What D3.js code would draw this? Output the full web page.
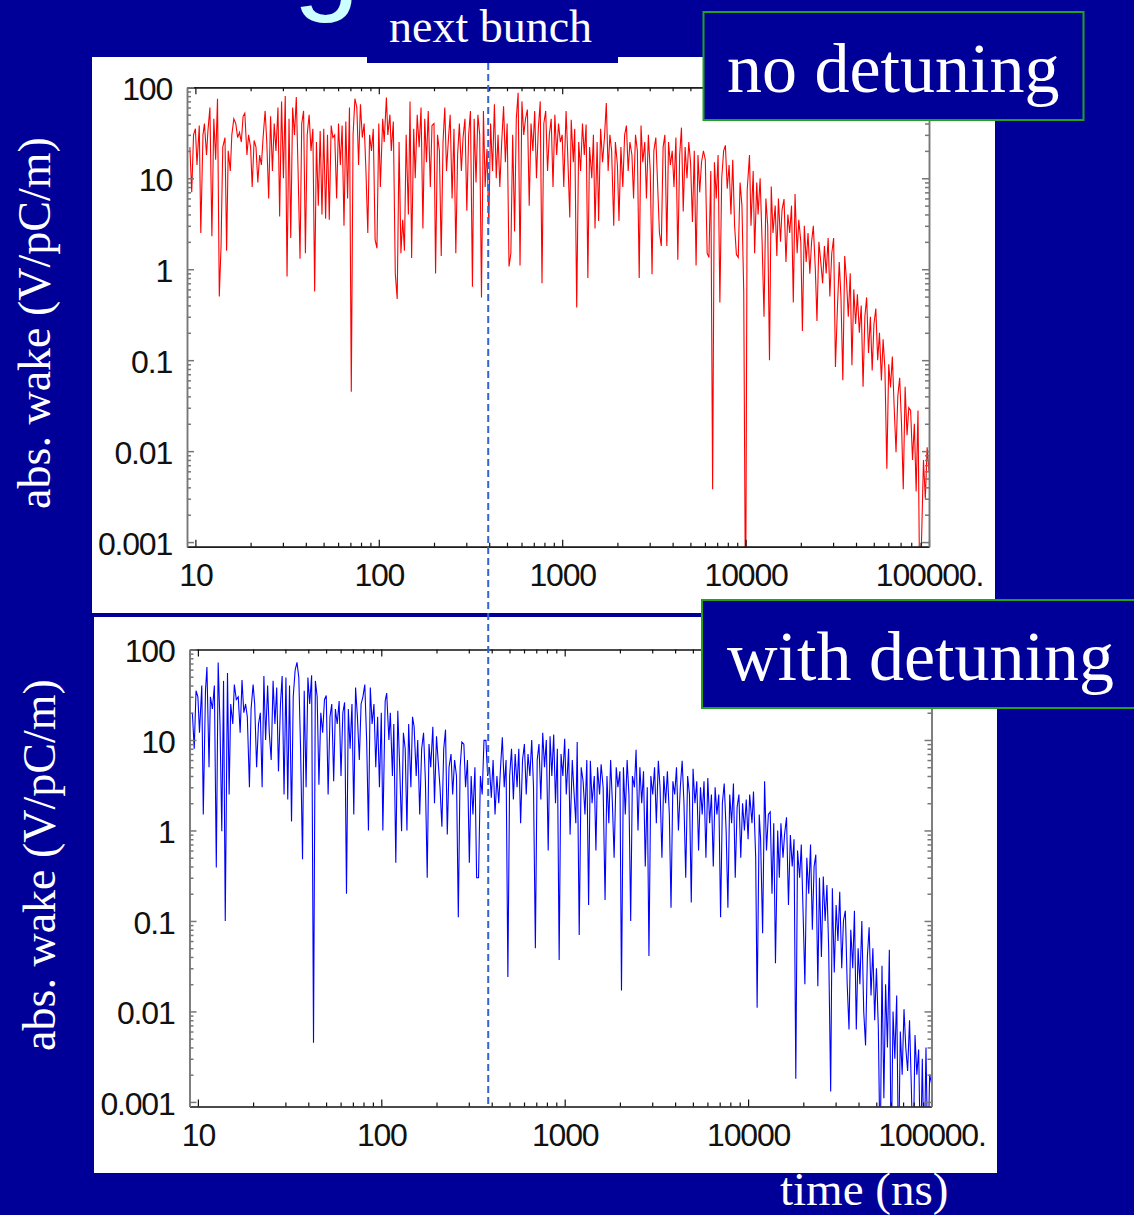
<!DOCTYPE html>
<html>
<head>
<meta charset="utf-8">
<script src="https://cdn.jsdelivr.net/npm/d3@7"></script>
<style>
  body { margin: 0; background: #000099; }
  svg { display: block; }
</style>
</head>
<body>
<svg id="slide" width="1134" height="1215"></svg>
<script>
/*global d3 */

// sampling times (ns), log spaced
var times = [
  9.33, 9.55, 9.77,
  10, 10.2, 10.5, 10.7, 11, 11.2, 11.5, 11.7, 12, 12.3,
  12.6, 12.9, 13.2, 13.5, 13.8, 14.1, 14.5, 14.8, 15.1, 15.5,
  15.8, 16.2, 16.6, 17, 17.4, 17.8, 18.2, 18.6, 19.1, 19.5,
  20, 20.4, 20.9, 21.4, 21.9, 22.4, 22.9, 23.4, 24, 24.5,
  25.1, 25.7, 26.3, 26.9, 27.5, 28.2, 28.8, 29.5, 30.2, 30.9,
  31.6, 32.4, 33.1, 33.9, 34.7, 35.5, 36.3, 37.2, 38, 38.9,
  39.8, 40.7, 41.7, 42.7, 43.7, 44.7, 45.7, 46.8, 47.9, 49,
  50.1, 51.3, 52.5, 53.7, 55, 56.2, 57.5, 58.9, 60.3, 61.7,
  63.1, 64.6, 66.1, 67.6, 69.2, 70.8, 72.4, 74.1, 75.9, 77.6,
  79.4, 81.3, 83.2, 85.1, 87.1, 89.1, 91.2, 93.3, 95.5, 97.7,
  100, 102, 105, 107, 110, 112, 115, 117, 120, 123,
  126, 129, 132, 135, 138, 141, 145, 148, 151, 155,
  158, 162, 166, 170, 174, 178, 182, 186, 191, 195,
  200, 204, 209, 214, 219, 224, 229, 234, 240, 245,
  251, 257, 263, 269, 275, 282, 288, 295, 302, 309,
  316, 324, 331, 339, 347, 355, 363, 372, 380, 389,
  398, 407, 417, 427, 437, 447, 457, 468, 479, 490,
  501, 513, 525, 537, 550, 562, 575, 589, 603, 617,
  631, 646, 661, 676, 692, 708, 724, 741, 759, 776,
  794, 813, 832, 851, 871, 891, 912, 933, 955, 977,
  1000, 1020, 1050, 1070, 1100, 1120, 1150, 1170, 1200, 1230,
  1260, 1290, 1320, 1350, 1380, 1410, 1450, 1480, 1510, 1550,
  1580, 1620, 1660, 1700, 1740, 1780, 1820, 1860, 1910, 1950,
  2000, 2040, 2090, 2140, 2190, 2240, 2290, 2340, 2400, 2450,
  2510, 2570, 2630, 2690, 2750, 2820, 2880, 2950, 3020, 3090,
  3160, 3240, 3310, 3390, 3470, 3550, 3630, 3720, 3800, 3890,
  3980, 4070, 4170, 4270, 4370, 4470, 4570, 4680, 4790, 4900,
  5010, 5130, 5250, 5370, 5500, 5620, 5750, 5890, 6030, 6170,
  6310, 6460, 6610, 6760, 6920, 7080, 7240, 7410, 7590, 7760,
  7940, 8130, 8320, 8510, 8710, 8910, 9120, 9330, 9550, 9770,
  10000, 10200, 10500, 10700, 11000, 11200, 11500, 11700, 12000, 12300,
  12600, 12900, 13200, 13500, 13800, 14100, 14500, 14800, 15100, 15500,
  15800, 16200, 16600, 17000, 17400, 17800, 18200, 18600, 19100, 19500,
  20000, 20400, 20900, 21400, 21900, 22400, 22900, 23400, 24000, 24500,
  25100, 25700, 26300, 26900, 27500, 28200, 28800, 29500, 30200, 30900,
  31600, 32400, 33100, 33900, 34700, 35500, 36300, 37200, 38000, 38900,
  39800, 40700, 41700, 42700, 43700, 44700, 45700, 46800, 47900, 49000,
  50100, 51300, 52500, 53700, 55000, 56200, 57500, 58900, 60300, 61700,
  63100, 64600, 66100, 67600, 69200, 70800, 72400, 74100, 75900, 77600,
  79400, 81300, 83200, 85100, 87100, 89100, 91200, 93300, 95500, 97700,
  100000
];

// abs. wake (V/pC/m), no detuning
var wakeNoDetuning = [
  22, 7, 30,
  35, 14, 38, 2.5, 30, 40, 18, 33, 60, 2.3,
  45, 16, 75, 0.5, 1.8, 22, 28, 1.6, 20, 12,
  30, 45, 40, 28, 32, 25, 48, 52, 18, 30,
  22, 8, 26, 22, 9, 18, 14, 28, 55, 25,
  6, 48, 12, 40, 20, 60, 3.8, 70, 10, 80,
  0.83, 45, 2.2, 60, 30, 78, 12, 1.3, 40, 55,
  1.5, 30, 50, 20, 35, 0.57, 25, 5, 33, 4,
  35, 3.6, 30, 3.5, 38, 28, 30, 6, 40, 14,
  38, 3, 42, 6, 60, 0.045, 30, 75, 60, 14,
  65, 28, 40, 12, 2.5, 30, 20, 35, 2.1, 1.7,
  40, 8, 45, 25, 77, 30, 50, 20, 42, 0.9,
  0.47, 25, 1.5, 3.5, 1.6, 30, 4, 70, 1.33, 35,
  10, 50, 22, 60, 2.8, 45, 15, 55, 8, 38,
  40, 0.9, 30, 20, 1.4, 25, 60, 12, 28, 50,
  6, 35, 1.5, 18, 40, 12, 28, 45, 4.4, 30,
  55, 0.64, 45, 9, 50, 30, 0.49, 55, 8, 21,
  3.1, 40, 12, 65, 10, 30, 8, 25, 62, 15,
  40, 1.07, 1.5, 30, 2.6, 45, 87, 1.1, 70, 30,
  45, 57, 5, 40, 20, 55, 10, 35, 70, 0.7,
  40, 55, 12, 30, 45, 8, 50, 18, 40, 25,
  30, 8, 55, 20, 3.7, 44, 15, 35, 0.38, 25,
  12, 40, 18, 39, 0.8, 22, 10, 30, 2.8, 25,
  3.4, 35, 15, 28, 67, 12, 30, 20, 3.0, 25,
  14, 3.4, 22, 8, 30, 38, 12, 25, 18, 6,
  30, 20, 0.8, 38, 15, 25, 6, 30, 12, 0.88,
  20, 28, 9, 2.5, 1.8, 22, 30, 1.8, 25, 14,
  20, 8, 28, 1.27, 18, 36, 4.3, 22, 10, 25,
  15, 3.3, 20, 1.1, 18, 7, 15, 20, 16, 1.5,
  1.35, 12, 0.0038, 15, 6, 18, 0.43, 10, 20, 23,
  7.7, 14, 4, 16, 3, 1.45, 1.35, 9, 5, 0.56,
  0.0001, 7.4, 18, 3, 12, 1.5, 9, 4, 10, 2,
  0.3, 6, 3, 0.1, 8.1, 2.5, 5, 1.4, 6, 2,
  4.5, 5.9, 1.2, 4, 2.5, 5, 0.43, 6.7, 1.5, 3.5,
  2, 0.21, 3, 1.2, 2.5, 0.89, 2, 3.0, 1, 0.27,
  2, 1.2, 0.7, 1.8, 0.9, 2.2, 0.5, 1.5, 2.2, 0.084,
  0.33, 1.2, 0.5, 0.06, 1.4, 0.75, 0.3, 0.9, 0.088, 0.6,
  0.25, 0.53, 0.2, 0.4, 0.051, 0.3, 0.49, 0.12, 0.3, 0.077,
  0.25, 0.37, 0.1, 0.2, 0.06, 0.17, 0.08, 0.0064, 0.09, 0.05,
  0.11, 0.03, 0.0097, 0.04, 0.064, 0.02, 0.0038, 0.051, 0.015, 0.03,
  0.028, 0.008, 0.02, 0.0036, 0.028, 0.0002, 0.0012, 0.008, 0.003, 0.011,
  0.006
];

// abs. wake (V/pC/m), with detuning
var wakeWithDetuning = [
  20, 8, 35,
  30, 12, 40, 1.5, 35, 64, 5, 30, 22, 40,
  0.39, 72, 15, 0.98, 45, 0.10, 55, 2.5, 25, 15,
  41, 28, 30, 12, 46, 20, 25, 18, 3, 22,
  41, 25, 5, 15, 20, 3, 51, 10, 40, 12,
  6, 45, 15, 38, 4.5, 25, 51, 2.5, 49, 2.2,
  40, 1.26, 30, 59, 72, 49, 8, 0.48, 35, 3,
  49, 25, 52, 0.0045, 45, 30, 3.2, 20, 12, 28,
  31, 2.5, 18, 25, 3.5, 22, 15, 27, 4, 20,
  26, 0.2, 22, 8, 25, 1.5, 38, 18, 6, 25,
  30, 41, 10, 1.0, 38, 15, 25, 5, 18, 3,
  20, 1.0, 27, 33, 10, 20, 4, 15, 0.44, 21,
  5, 0.98, 12, 8, 1.0, 15, 3, 18, 14, 4,
  10, 1.5, 8, 12, 3.5, 0.30, 9, 5, 14, 2,
  11, 6, 3, 1.1, 8, 13, 0.9, 5, 7, 2.5,
  6, 4, 0.11, 5, 9.5, 9, 3, 6, 0.44, 4,
  1.5, 5, 0.30, 0.30, 4, 2.5, 9.9, 9.9, 4, 5,
  2.3, 6, 1.5, 4, 2, 5, 10.7, 3, 6, 0.024,
  4, 8, 2.2, 7, 3, 8, 1.2, 6, 9, 2.5,
  7, 4, 10, 3, 0.05, 6, 9, 2.2, 12, 5,
  10, 0.6, 11, 4, 11.5, 2, 8, 0.037, 7, 4,
  10.3, 2.5, 8, 0.9, 6, 3, 1.2, 9.5, 0.07, 5,
  3.5, 1.5, 6, 0.15, 5.9, 2, 4, 0.6, 5, 2.5,
  5.4, 3, 0.17, 4, 1.2, 6, 2, 0.5, 5, 3,
  4.5, 0.017, 5, 1.5, 6, 2.5, 0.1, 4, 3, 7.8,
  1, 5, 2, 4.5, 0.4, 3, 0.041, 4, 2.5, 5,
  1.2, 5.9, 3, 0.5, 4, 2, 4.5, 1.5, 0.14, 3.5,
  2.5, 5, 1, 3, 5.9, 2, 0.3, 4, 2.5, 0.16,
  4.8, 2, 3.5, 0.6, 3, 1.5, 3.5, 0.5, 3.8, 1.2,
  2.5, 0.4, 3, 1.5, 2.5, 0.11, 2, 3.3, 1, 0.14,
  2.5, 1.2, 3.3, 0.3, 1.8, 2.5, 0.5, 2, 1, 2.2,
  0.8, 2.5, 1.2, 2.7, 0.5, 0.011, 1.5, 0.8, 0.073, 3.5,
  0.6, 1.5, 1.6, 0.2, 1.2, 0.034, 1, 0.3, 1.2, 0.5,
  0.9, 1.4, 0.15, 0.89, 0.4, 0.8, 0.0018, 0.6, 0.3, 0.7,
  0.1, 0.02, 0.5, 0.2, 0.7, 0.08, 0.4, 0.54, 0.019, 0.3,
  0.04, 0.31, 0.1, 0.25, 0.05, 0.0013, 0.23, 0.027, 0.15, 0.06,
  0.21, 0.03, 0.1, 0.13, 0.02, 0.0063, 0.08, 0.03, 0.13, 0.0063,
  0.05, 0.02, 0.1, 0.01, 0.0042, 0.04, 0.085, 0.015, 0.05, 0.008,
  0.03, 0.0066, 0.0002, 0.032, 0.0011, 0.02, 0.004, 0.048, 0.0002, 0.01,
  0.003, 0.015, 0.0002, 0.006, 0.002, 0.0106, 0.004, 0.0022, 0.008, 0.0015,
  0.0002, 0.0055, 0.002, 0.0038, 0.0002, 0.003, 0.0002, 0.004, 0.0002, 0.002,
  0.0016
];

// tick labels
var xTickValues = [10, 100, 1000, 10000, 100000];
var xTickLabels = ["10", "100", "1000", "10000", "100000."];
var yTickValues = [100, 10, 1, 0.1, 0.01, 0.001];
var yTickLabels = ["100", "10", "1", "0.1", "0.01", "0.001"];

// time of the next bunch (ns)
var nextBunchTime = 395;

var blue = "#000099";
var svg = d3.select("#slide");

svg.append("rect")
  .attr("width", 1134)
  .attr("height", 1215)
  .attr("fill", blue);

// minor tick positions
var xMinor = [], yMinor = [];
[10, 100, 1000, 10000].forEach(function(d) {
  for (var m = 2; m <= 9; m++) xMinor.push(d * m);
});
[0.001, 0.01, 0.1, 1, 10].forEach(function(d) {
  for (var m = 2; m <= 9; m++) yMinor.push(d * m);
});

var panels = [
  { bg: [92, 57, 903, 556], left: 187, right: 929, top: 87.3, bottom: 546.7,
    values: wakeNoDetuning, color: "#ff0000" },
  { bg: [94, 617, 903, 556], left: 189.5, right: 931.5, top: 649.5, bottom: 1106.5,
    values: wakeWithDetuning, color: "#0000ff" }
];

var xTop;

panels.forEach(function(p, n) {
  svg.append("rect")
    .attr("x", p.bg[0]).attr("y", p.bg[1])
    .attr("width", p.bg[2]).attr("height", p.bg[3])
    .attr("fill", "#ffffff");

  var x = d3.scaleLog().domain([9, 100000]).range([p.left, p.right]);
  var y = d3.scaleLog().domain([0.00089, 100]).range([p.bottom, p.top]);
  if (n === 0) xTop = x;

  svg.append("clipPath").attr("id", "clip" + n)
    .append("rect")
      .attr("x", p.left).attr("y", p.top)
      .attr("width", p.right - p.left).attr("height", p.bottom - p.top);

  var points = times.map(function(t, i) { return { t: t, v: p.values[i] }; });

  var line = d3.line()
    .x(function(d) { return x(d.t); })
    .y(function(d) { return y(d.v); });

  svg.append("path")
    .datum(points)
    .attr("clip-path", "url(#clip" + n + ")")
    .attr("d", line)
    .attr("fill", "none")
    .attr("stroke", p.color)
    .attr("stroke-width", 1.1);

  // frame with ticks on all four sides
  var frame = svg.append("g").attr("class", "frame");

  function side(axis, tx, ty, color, width) {
    var g = frame.append("g")
      .attr("transform", "translate(" + tx + "," + ty + ")")
      .call(axis);
    g.attr("color", color);
    g.selectAll("path, line").attr("stroke-width", width);
    return g;
  }

  [[xTickValues, -7], [xMinor, -4]].forEach(function(s) {
    side(d3.axisBottom(x).tickValues(s[0]).tickSize(s[1]).tickSizeOuter(0).tickFormat(""),
      0, p.bottom, "#111", 1.2);
    side(d3.axisTop(x).tickValues(s[0]).tickSize(s[1]).tickSizeOuter(0).tickFormat(""),
      0, p.top, "#111", 1.2);
  });
  [[yTickValues, -7], [yMinor, -4]].forEach(function(s) {
    side(d3.axisLeft(y).tickValues(s[0]).tickSize(s[1]).tickSizeOuter(0).tickFormat(""),
      p.left, 0, "#777", 1.5);
    side(d3.axisRight(y).tickValues(s[0]).tickSize(s[1]).tickSizeOuter(0).tickFormat(""),
      p.right, 0, "#777", 1.5);
  });

  // tick labels
  var xl = frame.append("g")
    .attr("transform", "translate(0," + p.bottom + ")")
    .call(d3.axisBottom(x).tickValues(xTickValues).tickSize(0).tickPadding(17)
      .tickFormat(function(d, i) { return xTickLabels[i]; }));
  xl.select(".domain").remove();

  var yl = frame.append("g")
    .attr("transform", "translate(" + p.left + ",0)")
    .call(d3.axisLeft(y).tickValues(yTickValues).tickSize(0).tickPadding(15)
      .tickFormat(function(d, i) { return yTickLabels[i]; }));
  yl.select(".domain").remove();

  frame.selectAll("text")
    .attr("font-family", "'Liberation Sans', Arial, sans-serif")
    .attr("font-size", 32)
    .attr("letter-spacing", -1.2)
    .attr("fill", "#111");
  yl.selectAll("text").attr("dy", "0.38em");
});

// next bunch marker
svg.append("line")
  .attr("x1", xTop(nextBunchTime)).attr("x2", xTop(nextBunchTime))
  .attr("y1", 63).attr("y2", 1108)
  .attr("stroke", "#3366cc")
  .attr("stroke-width", 2)
  .attr("stroke-dasharray", "7,4");

svg.append("rect")
  .attr("x", 367).attr("y", 0)
  .attr("width", 251).attr("height", 63)
  .attr("fill", blue);

svg.append("text")
  .attr("x", 389).attr("y", 42)
  .attr("font-family", "'Liberation Serif', 'Times New Roman', serif")
  .attr("font-size", 46)
  .attr("fill", "#ffffff")
  .text("next bunch");

// piece of the slide title
svg.append("text")
  .attr("x", 293).attr("y", -2)
  .attr("font-family", "'Liberation Sans', Arial, sans-serif")
  .attr("font-size", 120)
  .attr("fill", "#ccffff")
  .text("g");

// label boxes
var boxes = [
  { x: 703.5, y: 12, w: 380, h: 108, label: "no detuning", base: 92 },
  { x: 702, y: 600, w: 440, h: 108, label: "with detuning", base: 680 }
];
boxes.forEach(function(b) {
  svg.append("rect")
    .attr("x", b.x).attr("y", b.y)
    .attr("width", b.w).attr("height", b.h)
    .attr("fill", blue)
    .attr("stroke", "#22a022")
    .attr("stroke-width", 2);
  svg.append("text")
    .attr("x", 727).attr("y", b.base)
    .attr("font-family", "'Liberation Serif', 'Times New Roman', serif")
    .attr("font-size", 70)
    .attr("fill", "#ffffff")
    .text(b.label);
});

// axis titles
[[50, 323], [55, 865]].forEach(function(c) {
  svg.append("text")
    .attr("transform", "translate(" + c[0] + "," + c[1] + ")rotate(-90)")
    .attr("text-anchor", "middle")
    .attr("font-family", "'Liberation Serif', 'Times New Roman', serif")
    .attr("font-size", 46)
    .attr("fill", "#ffffff")
    .text("abs. wake (V/pC/m)");
});

svg.append("text")
  .attr("x", 780).attr("y", 1205)
  .attr("font-family", "'Liberation Serif', 'Times New Roman', serif")
  .attr("font-size", 47)
  .attr("fill", "#ffffff")
  .text("time (ns)");
</script>
</body>
</html>
